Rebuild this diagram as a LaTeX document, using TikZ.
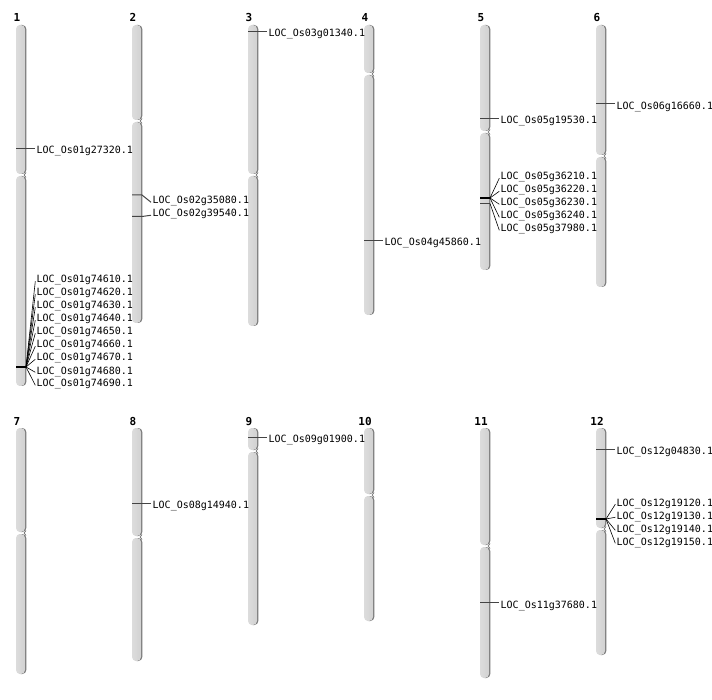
\documentclass[tikz,border=0pt]{standalone}
\usepackage{fontspec}
\setmonofont{DejaVu Sans Mono}
\usetikzlibrary{calc}
\definecolor{armfill}{HTML}{D2D2D2}
\definecolor{armlight}{HTML}{DCDCDC}
\definecolor{armedge}{HTML}{787878}
\definecolor{mkcol}{HTML}{444444}
\newcommand\armpart[3]{% x center, y1, y2
  \fill[armedge, rounded corners=4pt] (#1-4,#2) rectangle (#1+5.3,#3);
  \shade[left color=armlight, right color=armfill, rounded corners=4pt] (#1-5,#2) rectangle (#1+4,#3);}
\newcommand\chromo[5]{% name, x, top, cen, bottom
  \armpart{#2}{#3}{#4-1}\armpart{#2}{#4+1}{#5}
  \draw[armedge, line width=0.8pt] (#2+5,#4-2.5) -- (#2+3.2,#4) -- (#2+5,#4+2.5);
  \node[numlab] (#1) at (#2-4,#3-3) {\bfseries\ttfamily #1};}
\newcommand\mlab[5]{% name, chrom x, marker y, baseline, text
  \node[lab] (#1) at (#2+15.5,#4) {#5};
  \coordinate (#1m) at (#2-5,#3);
  \draw[mk] (#1m) -- ($(#1m -| #1.west)+(-1.5,0)$);}
\newcommand\dlab[5]{% name, chrom x, marker y, baseline, text (bent connector)
  \node[lab] (#1) at (#2+15.5,#4) {#5};
  \coordinate (#1m) at (#2-5,#3);
  \draw[mk] (#1m) -- ++(10,0) -- ($(#1.west)+(-1.5,0.8)$);}
\newcommand\flab[5]{% name, chrom x, from y, baseline, text (fan)
  \node[lab] (#1) at (#2+15.5,#4) {#5};
  \coordinate (#1m) at (#2+5,#3);
  \draw[fan] (#1m) -- ($(#1.west)+(-1.2,0.8)$);}
\begin{document}
\begin{tikzpicture}[x=1pt,y=-1pt,
  lab/.style={font=\ttfamily\fontsize{10}{12}\selectfont, anchor=base west, inner sep=0pt, text=black},
  numlab/.style={font=\fontsize{11}{13}\selectfont, anchor=base, inner sep=0pt},
  mk/.style={draw=mkcol, line width=1pt},
  fan/.style={draw=black, line width=0.6pt},
  fanmk/.style={draw=black, line width=1.8pt},
  fanmkg/.style={draw=mkcol, line width=1.6pt}]
\useasboundingbox[fill=white] (0,0) rectangle (712,700);
% chromosomes row 1
\chromo{1}{21}{25}{175}{386}
\chromo{2}{137}{25}{121}{323}
\chromo{3}{253}{25}{175}{326}
\chromo{4}{369}{25}{74}{315}
\chromo{5}{485}{25}{132}{270}
\chromo{6}{601}{25}{156}{287}
% chromosomes row 2
\chromo{7}{21}{428}{533}{674}
\chromo{8}{137}{428}{537}{661}
\chromo{9}{253}{428}{451}{625}
\chromo{10}{369}{428}{495}{621}
\chromo{11}{485}{428}{546}{678}
\chromo{12}{601}{428}{529}{655}
% chr 1
\mlab{a1}{21}{148.5}{154}{LOC\_Os01g27320.1}
\coordinate (f1l) at (16,367); \coordinate (f1r) at (26,367);
\draw[fanmk] (f1l) -- (f1r);
\flab{b1}{21}{367}{283}{LOC\_Os01g74610.1}
\flab{b2}{21}{367}{296}{LOC\_Os01g74620.1}
\flab{b3}{21}{367}{309}{LOC\_Os01g74630.1}
\flab{b4}{21}{367}{322}{LOC\_Os01g74640.1}
\flab{b5}{21}{367}{335}{LOC\_Os01g74650.1}
\flab{b6}{21}{367}{348}{LOC\_Os01g74660.1}
\flab{b7}{21}{367}{361}{LOC\_Os01g74670.1}
\flab{b8}{21}{367}{374}{LOC\_Os01g74680.1}
\flab{b9}{21}{367}{387}{LOC\_Os01g74690.1}
% chr 2
\dlab{c1}{137}{195}{204}{LOC\_Os02g35080.1}
\dlab{c2}{137}{216.5}{217}{LOC\_Os02g39540.1}
% chr 3
\mlab{d1}{253}{32}{37}{LOC\_Os03g01340.1}
% chr 4
\mlab{e1}{369}{241}{246}{LOC\_Os04g45860.1}
% chr 5
\mlab{g1}{485}{119}{124}{LOC\_Os05g19530.1}
\coordinate (f5l) at (480,198); \coordinate (f5r) at (490,198);
\coordinate (f5gl) at (480,203.5); \coordinate (f5gr) at (490,203.5);
\draw[fanmkg] (f5gl) -- (f5gr);
\draw[fanmk] (f5l) -- (f5r);
\flab{h1}{485}{198}{180}{LOC\_Os05g36210.1}
\flab{h2}{485}{198}{193}{LOC\_Os05g36220.1}
\flab{h3}{485}{198}{206}{LOC\_Os05g36230.1}
\flab{h4}{485}{198}{219}{LOC\_Os05g36240.1}
\flab{h5}{485}{203.5}{232}{LOC\_Os05g37980.1}
% chr 6
\mlab{i1}{601}{104}{110}{LOC\_Os06g16660.1}
% chr 8
\mlab{j1}{137}{503}{508}{LOC\_Os08g14940.1}
% chr 9
\mlab{k1}{253}{437}{442}{LOC\_Os09g01900.1}
% chr 11
\mlab{m1}{485}{602}{608}{LOC\_Os11g37680.1}
% chr 12
\mlab{n1}{601}{449}{454}{LOC\_Os12g04830.1}
\coordinate (f12l) at (596,519); \coordinate (f12r) at (606,519);
\draw[fanmk] (f12l) -- (f12r);
\flab{p1}{601}{519}{506}{LOC\_Os12g19120.1}
\flab{p2}{601}{519}{519}{LOC\_Os12g19130.1}
\flab{p3}{601}{519}{532}{LOC\_Os12g19140.1}
\flab{p4}{601}{519}{545}{LOC\_Os12g19150.1}
\end{tikzpicture}
\end{document}
